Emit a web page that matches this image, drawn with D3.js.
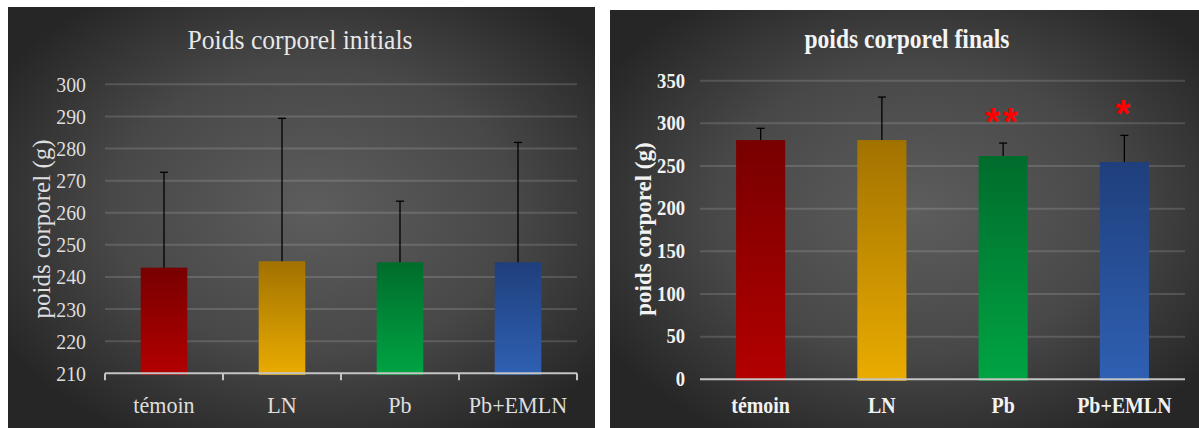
<!DOCTYPE html>
<html>
<head>
<meta charset="utf-8">
<script src="https://cdn.jsdelivr.net/npm/d3@7"></script>
<style>
  html, body { margin: 0; padding: 0; background: #ffffff; }
  svg { display: block; }
</style>
</head>
<body>
<svg id="chart" width="1199" height="428"></svg>
<script>
// ---------------- data ----------------
const categories = ["témoin", "LN", "Pb", "Pb+EMLN"];
const initialMeans = [242.9, 244.9, 244.6, 244.6];
const initialSD = [29.7, 44.5, 19.0, 37.3];
const finalMeans = [280.4, 280.4, 261.7, 254.7];
const finalSD = [13.8, 50.4, 15.2, 31.2];
const initialTicks = [210, 220, 230, 240, 250, 260, 270, 280, 290, 300];
const finalTicks = [0, 50, 100, 150, 200, 250, 300, 350];
const significance = ["", "", "**", "*"];
const titleInitial = "Poids corporel initials";
const titleFinal = "poids corporel finals";
const yTitle = "poids corporel (g)";
const barTop = ["#780000", "#a27200", "#006c2c", "#1f3f7c"];
const barBottom = ["#b30000", "#eaac00", "#00a443", "#2f60b3"];

// ---------------- setup ----------------
const svg = d3.select("#chart");
const defs = svg.append("defs");

const bg = defs.append("radialGradient").attr("id", "bgGrad")
  .attr("cx", "52%").attr("cy", "48%").attr("r", "62%");
bg.append("stop").attr("offset", "0%").attr("stop-color", "#5d5d5d");
bg.append("stop").attr("offset", "55%").attr("stop-color", "#484848");
bg.append("stop").attr("offset", "100%").attr("stop-color", "#262626");

categories.forEach((c, i) => {
  const g = defs.append("linearGradient").attr("id", "barGrad" + i)
    .attr("x1", 0).attr("y1", 0).attr("x2", 0).attr("y2", 1);
  g.append("stop").attr("offset", "0%").attr("stop-color", barTop[i]);
  g.append("stop").attr("offset", "100%").attr("stop-color", barBottom[i]);
});

function squeeze(sel, k) {
  sel.each(function () {
    const L = this.getComputedTextLength();
    d3.select(this).attr("textLength", L * k).attr("lengthAdjust", "spacingAndGlyphs");
  });
}
function fitTo(sel, w) {
  sel.attr("textLength", w).attr("lengthAdjust", "spacingAndGlyphs");
}

function drawPanel(cfg) {
  const g = svg.append("g");
  g.append("rect").attr("x", cfg.px).attr("y", cfg.py).attr("width", cfg.pw).attr("height", cfg.ph)
    .attr("fill", "url(#bgGrad)");

  const x = d3.scaleBand().domain(categories).range([cfg.x0, cfg.x1])
    .paddingInner(cfg.pad).paddingOuter(cfg.pad / 2);
  const y = d3.scaleLinear().domain(cfg.domain).range([cfg.yBottom, cfg.yTop]);

  // gridlines
  g.append("g").selectAll("line").data(cfg.ticks.filter(t => t !== cfg.domain[0])).join("line")
    .attr("x1", cfg.x0).attr("x2", cfg.x1)
    .attr("y1", d => y(d)).attr("y2", d => y(d))
    .attr("stroke", "rgba(255,255,255,0.14)").attr("stroke-width", 2);

  const data = categories.map((c, i) => ({ c, i, m: cfg.means[i], sd: cfg.sd[i], sig: significance[i] }));

  // bars
  g.append("g").selectAll("rect").data(data).join("rect")
    .attr("x", d => x(d.c)).attr("width", x.bandwidth())
    .attr("y", d => y(d.m)).attr("height", d => y(cfg.domain[0]) - y(d.m) + 1.5)
    .attr("fill", d => "url(#barGrad" + d.i + ")");

  // error bars
  const eb = g.append("g").attr("stroke", "#000").attr("stroke-width", 1.3);
  eb.selectAll("line.v").data(data).join("line").attr("class", "v")
    .attr("x1", d => x(d.c) + x.bandwidth() / 2).attr("x2", d => x(d.c) + x.bandwidth() / 2)
    .attr("y1", d => y(d.m)).attr("y2", d => y(d.m + d.sd));
  eb.selectAll("line.h").data(data).join("line").attr("class", "h")
    .attr("x1", d => x(d.c) + x.bandwidth() / 2 - 4).attr("x2", d => x(d.c) + x.bandwidth() / 2 + 4)
    .attr("y1", d => y(d.m + d.sd)).attr("y2", d => y(d.m + d.sd));

  // axis baseline
  g.append("line").attr("x1", cfg.x0).attr("x2", cfg.x1)
    .attr("y1", y(cfg.domain[0])).attr("y2", y(cfg.domain[0]))
    .attr("stroke", "#c4c4c4").attr("stroke-width", 2);
  if (cfg.tickMarks) {
    const bounds = d3.range(categories.length + 1).map(i => cfg.x0 + i * x.step());
    g.append("g").selectAll("line").data(bounds).join("line")
      .attr("x1", d => d).attr("x2", d => d)
      .attr("y1", y(cfg.domain[0])).attr("y2", y(cfg.domain[0]) + 7)
      .attr("stroke", "#c4c4c4").attr("stroke-width", 2);
  }

  // y tick labels
  const tl = g.append("g").selectAll("text").data(cfg.ticks).join("text")
    .attr("x", cfg.tickX).attr("y", d => y(d)).attr("dy", "0.34em")
    .attr("text-anchor", "end")
    .attr("font-family", "'Liberation Serif', serif")
    .attr("font-size", cfg.tickSize).attr("font-weight", cfg.weight)
    .attr("fill", cfg.textColor)
    .text(d => d);
  squeeze(tl, cfg.tickK);

  // x labels
  const xl = g.append("g").selectAll("text").data(data).join("text")
    .attr("x", d => x(d.c) + x.bandwidth() / 2).attr("y", cfg.xLabelY)
    .attr("text-anchor", "middle")
    .attr("font-family", "'Liberation Serif', serif")
    .attr("font-size", cfg.xSize).attr("font-weight", cfg.weight)
    .attr("fill", cfg.textColor)
    .text(d => d.c);
  squeeze(xl, cfg.xK);

  // y title
  g.append("text")
    .attr("transform", `translate(${cfg.yTitleX},${cfg.yTitleY}) rotate(-90)`)
    .attr("text-anchor", "middle")
    .attr("font-family", "'Liberation Serif', serif")
    .attr("font-size", cfg.yTitleSize).attr("font-weight", cfg.weight)
    .attr("fill", cfg.textColor)
    .text(yTitle);

  // title
  const t = g.append("text")
    .attr("x", cfg.titleX).attr("y", cfg.titleY)
    .attr("text-anchor", "middle")
    .attr("font-family", "'Liberation Serif', serif")
    .attr("font-size", cfg.titleSize).attr("font-weight", cfg.weight)
    .attr("fill", cfg.titleColor)
    .text(cfg.title);
  fitTo(t, cfg.titleW);

  // significance stars
  if (cfg.stars) {
    g.append("g").selectAll("text").data(data.filter(d => d.sig)).join("text")
      .attr("x", d => x(d.c) + x.bandwidth() / 2)
      .attr("y", d => y(d.m + d.sd) - 8)
      .attr("text-anchor", "middle")
      .attr("font-family", "'Liberation Sans', sans-serif")
      .attr("font-size", 38).attr("font-weight", "bold")
      .attr("letter-spacing", 3)
      .attr("fill", "#ff0000")
      .text(d => d.sig);
  }
}

drawPanel({
  px: 8, py: 7, pw: 587, ph: 421,
  x0: 105, x1: 577, pad: 0.605,
  domain: [210, 300], yBottom: 373.3, yTop: 84.3,
  ticks: initialTicks, means: initialMeans, sd: initialSD,
  tickMarks: true, weight: "normal",
  tickX: 86, tickSize: 22, tickK: 0.9,
  xLabelY: 413, xSize: 24, xK: 0.92,
  yTitleX: 50, yTitleY: 229, yTitleSize: 25,
  title: titleInitial, titleX: 300, titleY: 49, titleSize: 28, titleW: 225,
  textColor: "#dedede", titleColor: "#e8e8e8", stars: false
});

drawPanel({
  px: 610, py: 10, pw: 589, ph: 418,
  x0: 700, x1: 1185, pad: 0.595,
  domain: [0, 350], yBottom: 379.3, yTop: 80.7,
  ticks: finalTicks, means: finalMeans, sd: finalSD,
  tickMarks: false, weight: "bold",
  tickX: 685, tickSize: 20, tickK: 0.93,
  xLabelY: 413, xSize: 24, xK: 0.83,
  yTitleX: 651, yTitleY: 229, yTitleSize: 23,
  title: titleFinal, titleX: 907, titleY: 48, titleSize: 28, titleW: 205,
  textColor: "#f2f2f2", titleColor: "#f4f4f4", stars: true
});
</script>
</body>
</html>
